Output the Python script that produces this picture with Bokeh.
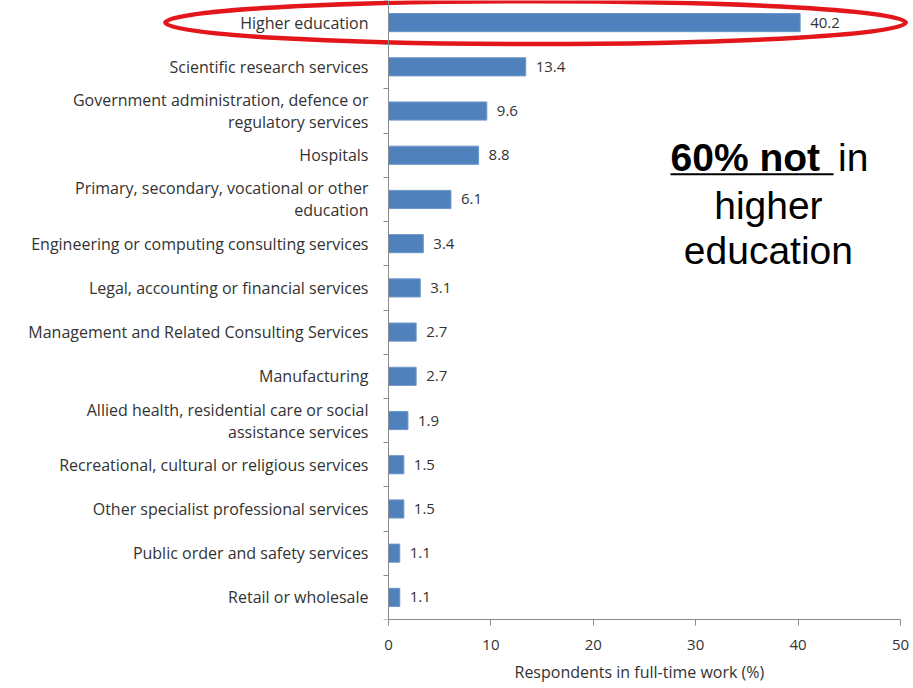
from bokeh.plotting import figure
from bokeh.models import Range1d, LinearAxis, FixedTicker, Label, Title
from bokeh.core.properties import value
from bokeh.embed import file_html
from bokeh.resources import INLINE

categories = [
    "Higher education",
    "Scientific research services",
    "Government administration, defence or\nregulatory services",
    "Hospitals",
    "Primary, secondary, vocational or other\neducation",
    "Engineering or computing consulting services",
    "Legal, accounting or financial services",
    "Management and Related Consulting Services",
    "Manufacturing",
    "Allied health, residential care or social\nassistance services",
    "Recreational, cultural or religious services",
    "Other specialist professional services",
    "Public order and safety services",
    "Retail or wholesale",
]
values = [40.2, 13.4, 9.6, 8.8, 6.1, 3.4, 3.1, 2.7, 2.7, 1.9, 1.5, 1.5, 1.1, 1.1]
value_labels = ["%.1f" % v for v in values]
x_ticks = [0, 10, 20, 30, 40, 50]
x_title = "Respondents in full-time work (%)"

n = len(categories)
pos = list(range(n))

FONT = "Open Sans"
TXT = "#333333"
AX = "#8a8a8a"

p = figure(width=913, height=688,
           x_range=Range1d(-37.89, 51.27), y_range=Range1d(n - 0.5, -0.5),
           x_axis_type=None, y_axis_type=None,
           output_backend="svg", toolbar_location=None,
           min_border_left=0, min_border_right=0, min_border_top=0, min_border_bottom=69)
p.outline_line_color = None
p.grid.visible = False
p.background_fill_color = "white"

# x axis
xaxis = LinearAxis(ticker=FixedTicker(ticks=x_ticks), bounds=(0, 50))
xaxis.axis_line_color = AX
xaxis.major_tick_line_color = AX
xaxis.major_tick_out = 6
xaxis.major_tick_in = 0
xaxis.minor_tick_line_color = None
xaxis.major_label_standoff = 14
xaxis.major_label_text_font = FONT
xaxis.major_label_text_font_size = "15px"
xaxis.major_label_text_color = TXT
p.add_layout(xaxis, "below")

# axis title centred under the 0-50 span
title = Title(text=x_title, align="left", offset=514, standoff=12,
              text_font=FONT, text_font_size="16px", text_font_style="normal",
              text_color=TXT)
p.add_layout(title, "below")

# y axis (category axis at x = 0)
yaxis = LinearAxis(fixed_location=0,
                   ticker=FixedTicker(ticks=pos, minor_ticks=[i - 0.5 for i in range(n + 1)]),
                   major_label_overrides={i: c for i, c in zip(pos, categories)})
yaxis.axis_line_color = AX
yaxis.major_tick_line_color = None
yaxis.major_tick_out = 0
yaxis.major_tick_in = 0
yaxis.minor_tick_line_color = AX
yaxis.minor_tick_out = 5
yaxis.minor_tick_in = 0
yaxis.major_label_standoff = 15
yaxis.major_label_text_font = FONT
yaxis.major_label_text_font_size = "16px"
yaxis.major_label_text_line_height = 1.0
yaxis.major_label_text_color = TXT
p.add_layout(yaxis, "left")

p.hbar(y=pos, right=values, left=0, height=0.41,
       fill_color="#4F81BD", line_color="#6D96C8", line_width=1)

p.text(x=values, y=pos, text=value_labels, x_offset=10,
       text_baseline="middle", text_align="left",
       text_font=value(FONT), text_font_size="15px", text_color=TXT)

# red ellipse highlighting the first category
p.ellipse(x=14.36, y=pos[0], width=72.3, height=0.97,
          fill_color=None, line_color="#E3161B", line_width=4.5)

# annotation text
big = "39px"
bf = "Liberation Sans"
y1 = 3.05
l1 = Label(x=27.54, y=y1, text="60% not", text_font=bf, text_font_size=big,
           text_font_style="bold", text_align="left", text_baseline="middle", text_color="black")
l1b = Label(x=43.9, y=y1, text="in", text_font=bf, text_font_size=big,
            text_align="left", text_baseline="middle", text_color="black")
l2 = Label(x=37.1, y=4.14, text="higher", text_font=bf, text_font_size=big,
           text_align="center", text_baseline="middle", text_color="black")
l3 = Label(x=37.1, y=5.16, text="education", text_font=bf, text_font_size=big,
           text_align="center", text_baseline="middle", text_color="black")
for l in (l1, l1b, l2, l3):
    p.add_layout(l)
p.line(x=[27.54, 43.46], y=[3.43, 3.43], line_color="black", line_width=2)

open("out.html", "w").write(file_html(p, INLINE))
